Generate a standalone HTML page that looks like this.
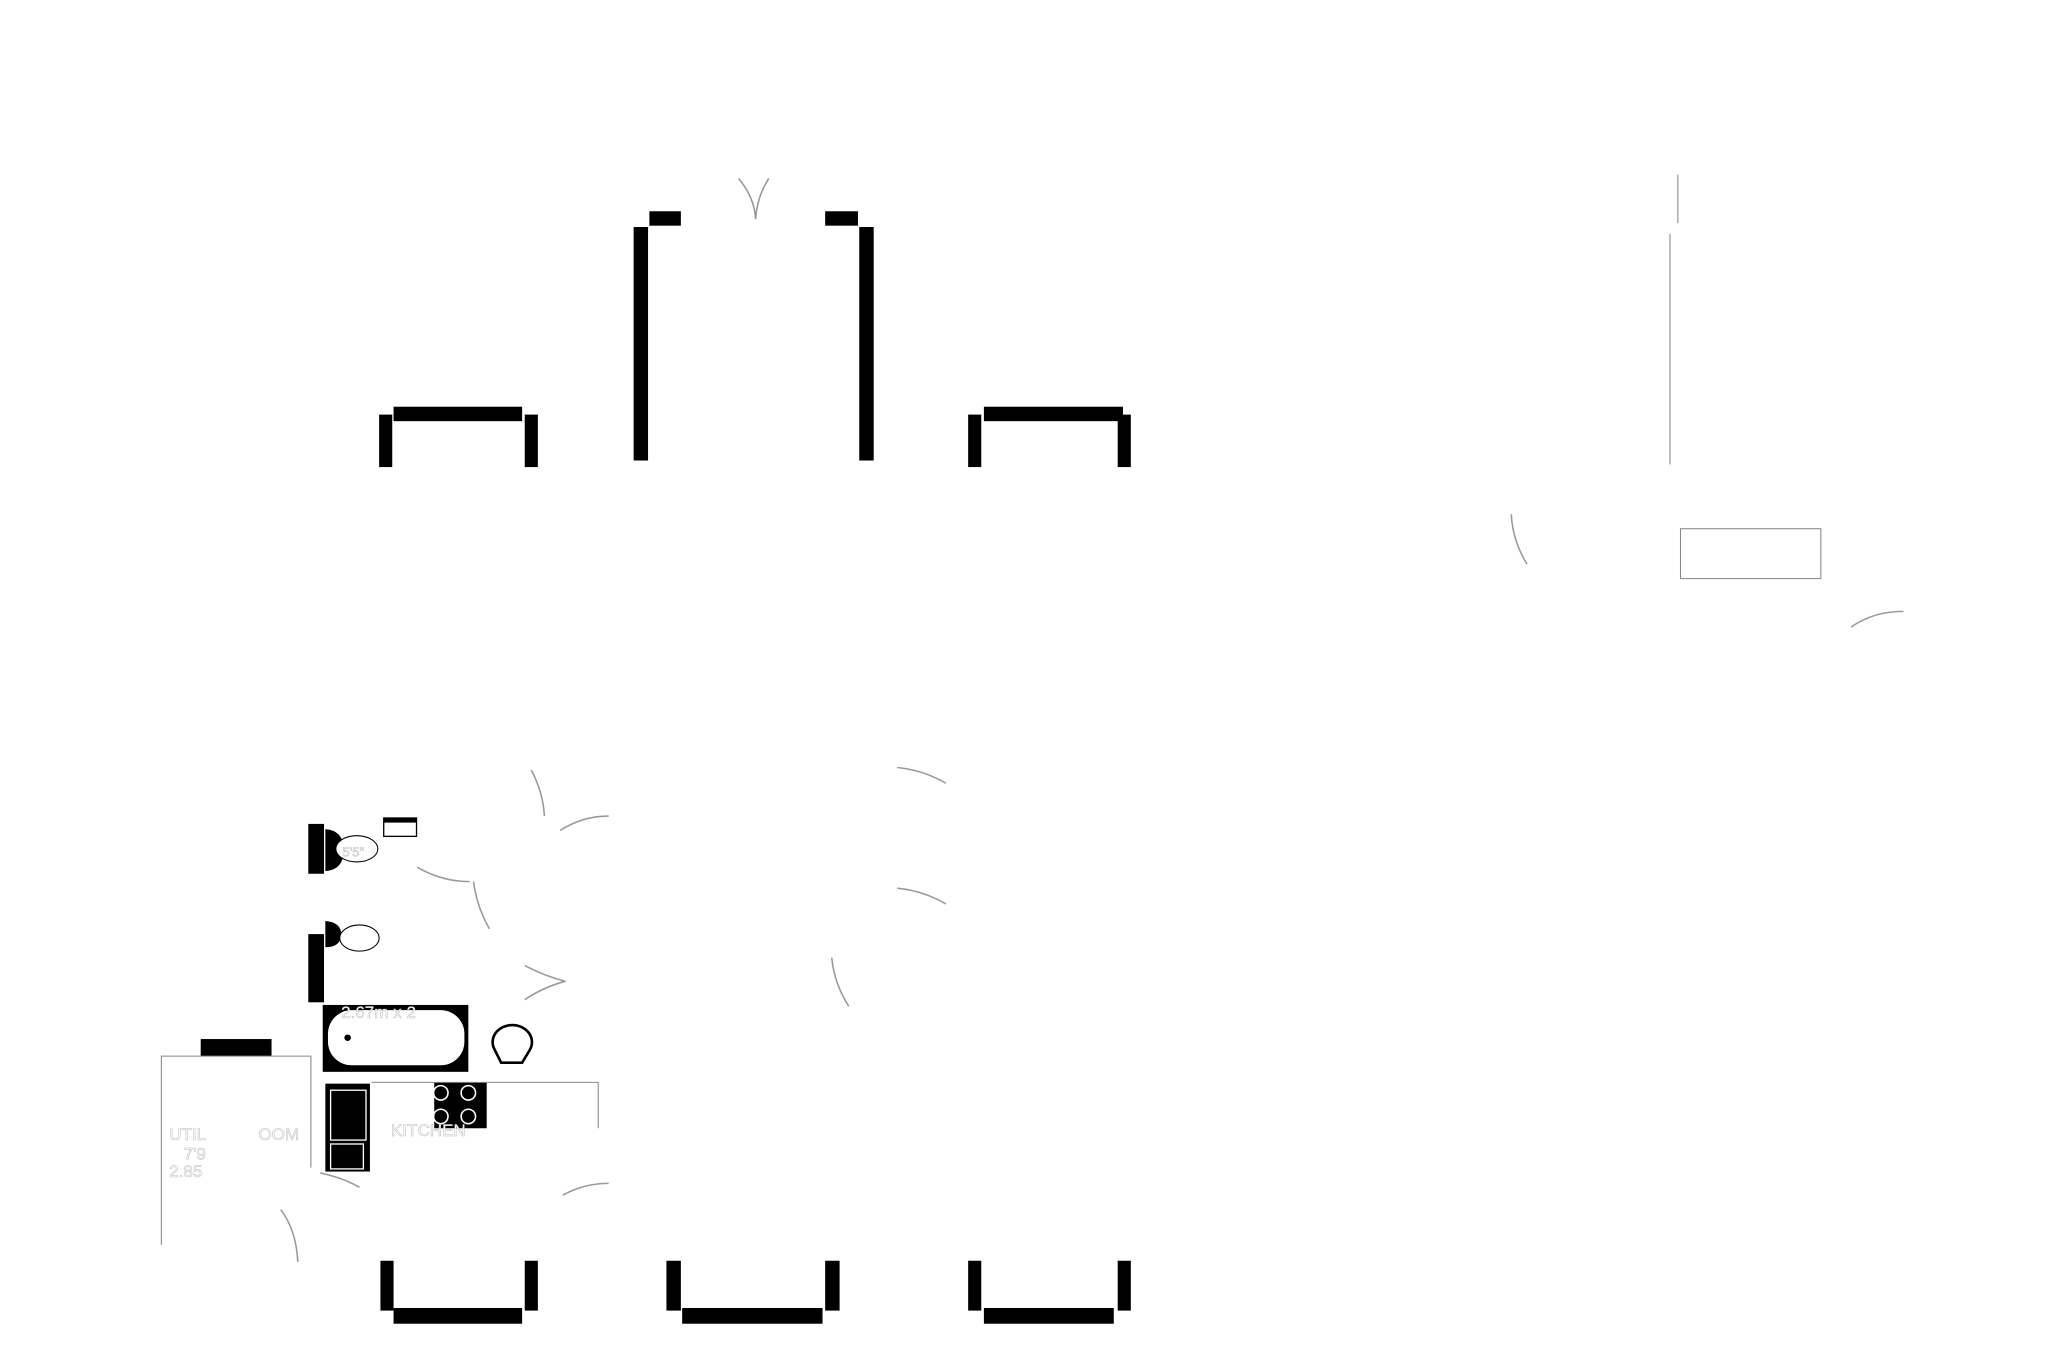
<!DOCTYPE html>
<html><head><meta charset="utf-8"><style>html,body{margin:0;padding:0;background:#fff}svg{display:block}</style></head>
<body>
<svg width="2057" height="1371" viewBox="0 0 1568 1045" xmlns="http://www.w3.org/2000/svg">
<rect width="1568" height="1045" fill="#fff"/>
<g fill="#000">
<!-- top windows -->
<rect x="289" y="316" width="10" height="40"/><rect x="400" y="316" width="10" height="40"/>
<rect x="300" y="310" width="98" height="11"/>
<rect x="483" y="173" width="11" height="178"/><rect x="495" y="161" width="24" height="11"/>
<rect x="655" y="173" width="11" height="178"/><rect x="629" y="161" width="25" height="11"/>
<rect x="738" y="316" width="10" height="40"/><rect x="852" y="316" width="10" height="40"/>
<rect x="750" y="310" width="106" height="11"/>
<!-- bottom windows -->
<rect x="290" y="961" width="10" height="38"/><rect x="400" y="961" width="10" height="38"/>
<rect x="300" y="997" width="98" height="12"/>
<rect x="508" y="961" width="11" height="38"/><rect x="629" y="961" width="11" height="38"/>
<rect x="520" y="997" width="107" height="12"/>
<rect x="738" y="961" width="10" height="38"/><rect x="852" y="961" width="10" height="38"/>
<rect x="750" y="997" width="99" height="12"/>
<!-- lower left -->
<rect x="235" y="628" width="12" height="38"/><rect x="235" y="712" width="12" height="52"/>
<rect x="153" y="792" width="54" height="13"/>
<path d="M248 632 Q262 633 262 648 Q262 663 248 664Z"/>
<path d="M248 702 Q260 703 260 712 Q260 722 248 722Z"/>
<rect x="246" y="766" width="111" height="51"/>
<rect x="248" y="826" width="34" height="67"/>
<rect x="331" y="825" width="40" height="35"/>
<rect x="292" y="623" width="26" height="15"/>
</g>
<g fill="#fff">
<rect x="248" y="769" width="106" height="45" fill="#000"/>
<rect x="250" y="770" width="104" height="42" rx="18" ry="18"/>
<rect x="293" y="627" width="24" height="10"/>
<circle cx="336" cy="833" r="5.5" fill="none" stroke="#fff" stroke-width="1.2"/><circle cx="357" cy="833" r="5.5" fill="none" stroke="#fff" stroke-width="1.2"/>
<circle cx="336" cy="851" r="5.5" fill="none" stroke="#fff" stroke-width="1.2"/><circle cx="357" cy="851" r="5.5" fill="none" stroke="#fff" stroke-width="1.2"/>
</g>
<circle cx="265" cy="791" r="2.5" fill="#000"/>
<ellipse cx="272" cy="647" rx="16" ry="10" fill="#fff" stroke="#000" stroke-width="0.8"/>
<ellipse cx="274" cy="715" rx="15" ry="10" fill="#fff" stroke="#000" stroke-width="0.8"/>
<path d="M377 800 A15 13 0 1 1 404 800 L398 810 L382 810 Z" fill="#fff" stroke="#000" stroke-width="2"/>
<g fill="none" stroke="#fff" stroke-width="1"><rect x="252" y="831" width="27" height="38"/><rect x="252" y="872" width="25" height="19"/></g>
<g fill="none" stroke="#888" stroke-width="0.8">
<path d="M123 949 V805 H237 V890"/><path d="M283 825 H456 V860"/>
<path d="M1273 178 V354"/><path d="M1279 133 V170"/>
<rect x="1281" y="403" width="107" height="38"/>
</g>
<g fill="none" stroke="#999" stroke-width="1.2">
<path d="M563 136 Q575 150 576 167 Q577 150 586 136"/>
<path d="M1152 392 Q1153 412 1164 430"/>
<path d="M1411 478 Q1428 466 1451 466"/>
<path d="M405 587 Q414 604 415 622"/><path d="M427 633 Q444 622 464 622"/>
<path d="M684 585 Q704 587 721 597"/><path d="M684 677 Q704 679 721 689"/>
<path d="M318 661 Q337 672 358 672"/><path d="M361 672 Q363 690 373 708"/>
<path d="M400 736 Q415 744 431 748 Q415 752 400 762"/>
<path d="M634 730 Q636 750 647 767"/>
<path d="M429 911 Q445 902 464 902"/><path d="M244 894 Q262 898 274 905"/>
<path d="M214 922 Q226 938 227 962"/>
</g>
<g font-family="Liberation Sans, sans-serif" font-size="13" fill="#fff" stroke="#bbb" stroke-width="0.4">
<text x="260" y="776">2.67m x 2</text>
<text x="129" y="869">UTIL</text><text x="197" y="869">OOM</text>
<text x="140" y="884">7'9</text><text x="129" y="897">2.85</text>
<text x="298" y="866">KITCHEN</text>
<text x="261" y="653" font-size="10">5'5"</text>
</g>
</svg>
</body></html>
